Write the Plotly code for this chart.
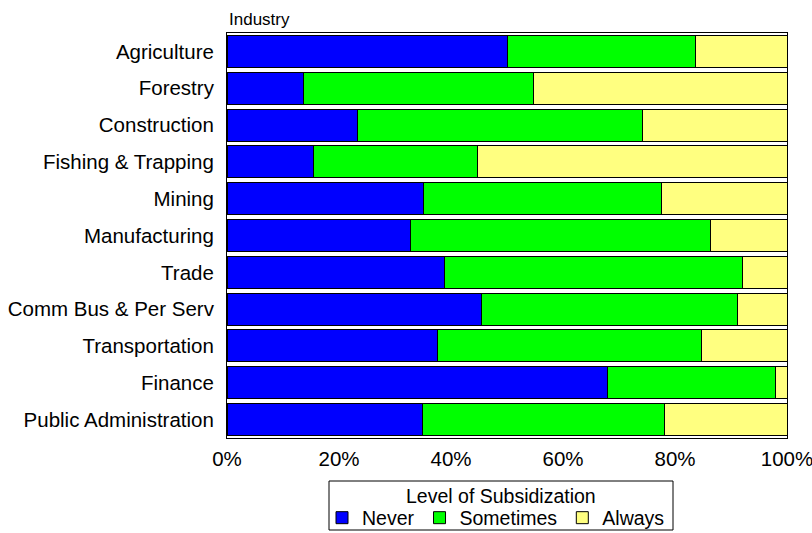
import plotly.graph_objects as go

industries = [
    "Agriculture", "Forestry", "Construction", "Fishing & Trapping", "Mining",
    "Manufacturing", "Trade", "Comm Bus & Per Serv", "Transportation",
    "Finance", "Public Administration",
]
never = [50.0, 13.7, 23.3, 15.4, 35.1, 32.7, 38.8, 45.5, 37.6, 67.9, 34.9]
sometimes = [33.7, 41.0, 50.9, 29.3, 42.4, 53.7, 53.2, 45.6, 47.1, 30.0, 43.2]
always = [round(100 - n - s, 1) for n, s in zip(never, sometimes)]

pct_ticks = [0, 20, 40, 60, 80, 100]
pct_labels = [f"{v}%" for v in pct_ticks]

series = [
    ("Never", never, "#0000FF"),
    ("Sometimes", sometimes, "#00FF00"),
    ("Always", always, "#FFFF80"),
]

FONT = "Liberation Sans, Arial, sans-serif"
FS = 20.5
W, H = 812, 533
M = dict(l=227, r=25, t=33, b=95)
PLOT_H = H - M["t"] - M["b"]
PLOT_W = W - M["l"] - M["r"]


def px_to_paper_y(py):
    # pixel row (from top of page) -> paper y coordinate
    return (H - M["b"] - py) / PLOT_H


def px_to_paper_x(px):
    return (px - M["l"]) / PLOT_W


fig = go.Figure()
for name, vals, color in series:
    fig.add_trace(go.Bar(
        y=industries, x=vals, name=name, orientation="h",
        marker=dict(color=color, line=dict(color="black", width=1)),
    ))

fig.update_layout(
    width=W, height=H,
    barmode="stack", bargap=0.13,
    paper_bgcolor="white", plot_bgcolor="white",
    margin=dict(**M, autoexpand=False),
    font=dict(family=FONT, size=FS, color="black"),
    showlegend=True,
    legend=dict(
        orientation="h", traceorder="normal",
        xref="paper", x=px_to_paper_x(496), xanchor="center",
        yref="container", y=1 - 518 / H, yanchor="middle",
        bgcolor="rgba(0,0,0,0)", borderwidth=0,
        itemwidth=30, tracegroupgap=0,
        font=dict(size=19.5),
    ),
    xaxis=dict(
        range=[0, 100], tickmode="array", tickvals=pct_ticks, ticktext=pct_labels,
        showgrid=False, zeroline=False, showline=True, linecolor="black",
        linewidth=1, mirror=True, ticks="", ticklabelstandoff=2,
        automargin=False, ticklabeloverflow="allow",
    ),
    yaxis=dict(
        autorange="reversed", showgrid=False, showline=True, linecolor="black",
        linewidth=1, mirror=True, ticks="", ticklabelstandoff=8,
        automargin=False,
    ),
    annotations=[
        dict(
            text="Industry", xref="paper", yref="paper", x=0, y=1,
            xanchor="left", yanchor="bottom", yshift=2, showarrow=False,
            font=dict(size=17),
        ),
        dict(
            text="Level of Subsidization", xref="paper", yref="paper",
            x=px_to_paper_x(501), y=px_to_paper_y(496), xanchor="center",
            yanchor="middle", showarrow=False, font=dict(size=19.5),
        ),
    ],
    shapes=[dict(
        type="rect", xref="paper", yref="paper",
        x0=px_to_paper_x(329), x1=px_to_paper_x(673),
        y0=px_to_paper_y(481), y1=px_to_paper_y(530),
        line=dict(color="black", width=1), fillcolor="rgba(0,0,0,0)",
        layer="above",
    )],
)

fig.write_html("out.html")
